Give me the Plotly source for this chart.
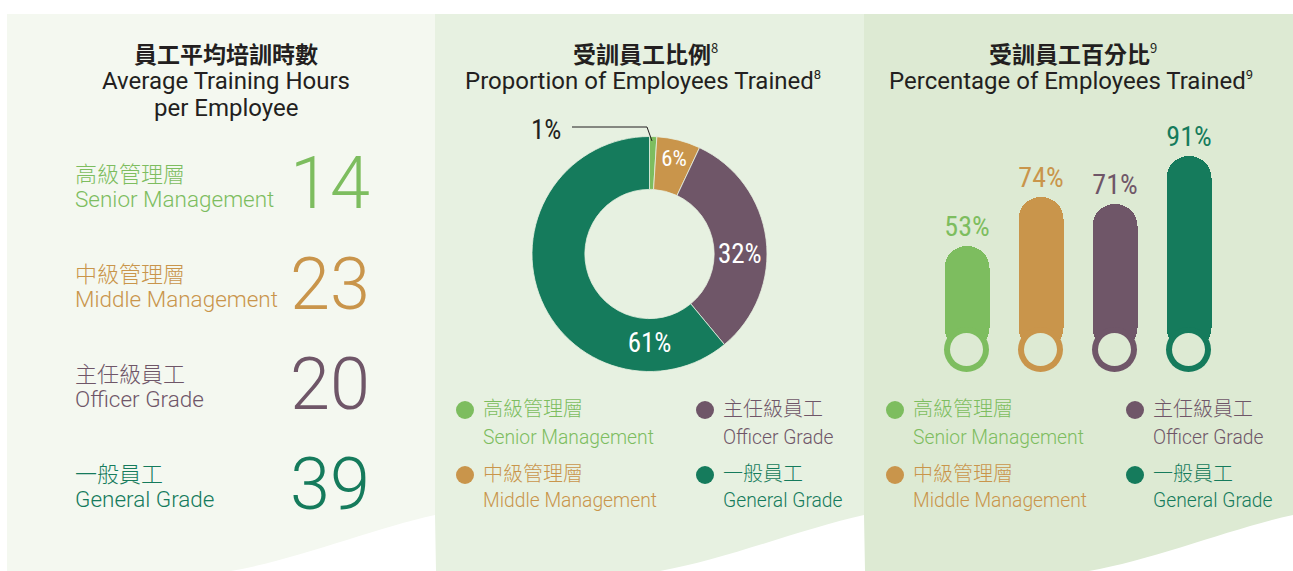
import plotly.graph_objects as go

# canvas size in px, margins are zero so paper coords map straight to pixels
W, H = 1293, 571


def px(x):
    return x / W


def py(y):
    return 1 - y / H


# ---- data ----
grades_zh = ["高級管理層", "中級管理層", "主任級員工", "一般員工"]
grades_en = ["Senior Management", "Middle Management", "Officer Grade", "General Grade"]
avg_hours = [14, 23, 20, 39]            # average training hours per employee
share_trained = [1, 6, 32, 61]          # proportion of employees trained (%)
pct_trained = [53, 74, 71, 91]          # percentage of employees trained (%)

colors = ["#7DBD5F", "#C9954B", "#6F5668", "#157B5C"]
ink = "#231F20"
panel_bg = ["#F4F8F0", "#E7F1E1", "#DDEAD3"]

LAT = "Roboto, 'Noto Sans CJK TC', sans-serif"
CJK = "'Noto Sans CJK TC', 'Noto Sans CJK SC', sans-serif"
COND = "'Roboto Condensed', 'Liberation Sans Narrow', Roboto, sans-serif"

fig = go.Figure()

# ---- donut: proportion of employees trained ----
fig.add_trace(
    go.Pie(
        values = share_trained,
        labels = grades_en,
        hole = 0.55,
        sort = False,
        direction = "clockwise",
        rotation = 0,
        marker = {"colors": colors, "line": {"color": panel_bg[1], "width": 0.8}},
        texttemplate = "%{value}%",
        textposition = ["none", "inside", "inside", "inside"],
        insidetextorientation = "horizontal",
        textfont = {"color": "white", "size": 27, "family": COND},
        domain = {"x": [px(532), px(767)], "y": [py(371.5), py(136.5)]},
        showlegend = False,
        hoverinfo = "label+percent",
    )
)

# ---- capsule bars: percentage of employees trained ----
bar_w_px = 45
y_bottom_px, y_top_px = 372, 135          # 0% .. 100%
unit_px = (y_bottom_px - y_top_px) / 100
r = (bar_w_px / 2) / unit_px              # cap radius in data units
xs = list(range(len(pct_trained)))

fig.add_trace(
    go.Bar(
        x = xs,
        y = [v - r for v in pct_trained],
        base = [r] * len(pct_trained),
        width = bar_w_px / 74,
        marker = {"color": colors, "cornerradius": "50%", "line": {"width": 0}},
        text = [f"{v}%" for v in pct_trained],
        textposition = "outside",
        textfont = {"color": colors, "size": 28, "family": COND},
        constraintext = "none",
        cliponaxis = False,
        showlegend = False,
        hovertemplate = "%{text}<extra></extra>",
    )
)
fig.add_trace(
    go.Scatter(
        x = xs,
        y = [r] * len(xs),
        mode = "markers",
        marker = {"size": bar_w_px, "color": colors, "line": {"width": 0}},
        showlegend = False,
        hoverinfo = "skip",
        cliponaxis = False,
    )
)
fig.add_trace(
    go.Scatter(
        x = xs,
        y = [r] * len(xs),
        mode = "markers",
        marker = {"size": 33, "color": panel_bg[2], "line": {"width": 0}},
        showlegend = False,
        hoverinfo = "skip",
        cliponaxis = False,
    )
)

# ---- panels (background decoration) ----
shapes = []
panel_x = [(7, 435), (435, 864), (864, 1293)]
for (x0, x1), bg in zip(panel_x, panel_bg):
    shapes.append({
        "type": "rect", "xref": "paper", "yref": "paper", "layer": "below",
        "x0": px(x0), "x1": px(x1), "y0": py(571), "y1": py(14),
        "fillcolor": bg, "line": {"width": 0},
    })
for x0, x1 in panel_x:
    shapes.append({
        "type": "path", "xref": "paper", "yref": "paper", "layer": "below",
        "path": f"M {px(x1)},{py(515)} C {px(x1 - 60)},{py(528)} {px(x1 - 140)},{py(560)} {px(x1 - 204)},{py(571)} L {px(x1 + 1)},{py(571)} Z",
        "fillcolor": "white", "line": {"width": 0},
    })

# leader line for the tiny 1% slice
shapes.append({
    "type": "path", "xref": "paper", "yref": "paper",
    "path": f"M {px(572)},{py(127)} L {px(647)},{py(127)} L {px(652)},{py(141)}",
    "line": {"color": ink, "width": 1},
})

annotations = []


def note(text, x, y, size, color, family=LAT, xanchor="center", weight=None):
    font = {"size": size, "color": color, "family": family}
    if weight:
        font["weight"] = weight
    annotations.append({
        "text": text, "x": px(x), "y": py(y), "xref": "paper", "yref": "paper",
        "xanchor": xanchor, "yanchor": "middle", "showarrow": False, "font": font,
    })


def sup(n):
    return f"<sup><span style='font-size:13px'>{n}</span></sup>"


# titles
note("<b>員工平均培訓時數</b>", 226, 53, 23, ink, CJK)
note("Average Training Hours", 226, 81, 24, ink)
note("per Employee", 226, 108, 24, ink)
note("<b>受訓員工比例</b>" + sup(8), 645, 53, 23, ink, CJK)
note("Proportion of Employees Trained" + sup(8), 643, 81, 24, ink)
note("<b>受訓員工百分比</b>" + sup(9), 1073, 53, 23, ink, CJK)
note("Percentage of Employees Trained" + sup(9), 1071, 81, 24, ink)

# left panel: average training hours
for i, (zh, en, v, c) in enumerate(zip(grades_zh, grades_en, avg_hours, colors)):
    row = 184 + 100 * i
    note(zh, 73, row - 12, 22, c, CJK, "left", 300)
    note(en, 73, row + 15, 22.5, c, LAT, "left", 300)
    note(str(v), 372, row, 72, c, LAT, "right", 300)

# 1% label for donut
note(f"{share_trained[0]}%", 546, 130, 27, ink, COND)

# legends for panel 2 and panel 3
for dx in (0, 430):
    for i, (zh, en, c) in enumerate(zip(grades_zh, grades_en, colors)):
        col, rown = i // 2, i % 2
        cx = 465 + dx + 240 * col
        cy = 410 + 65 * rown
        shapes.append({
            "type": "circle", "xref": "paper", "yref": "paper",
            "x0": px(cx - 9), "x1": px(cx + 9), "y0": py(cy + 9), "y1": py(cy - 9),
            "fillcolor": c, "line": {"width": 0},
        })
        note(zh, cx + 16, 408 + 64 * rown, 20, c, CJK, "left", 300)
        note(en, cx + 16, 437 + 63 * rown, 19.3, c, LAT, "left", 300)

fig.update_layout(
    width = W,
    height = H,
    margin = {"l": 0, "r": 0, "t": 0, "b": 0, "pad": 0},
    paper_bgcolor = "white",
    plot_bgcolor = "rgba(0,0,0,0)",
    showlegend = False,
    bargap = 0,
    xaxis = {
        "domain": [px(929.5), px(1225.5)],
        "range": [-0.5, 3.5],
        "visible": False,
        "fixedrange": True,
    },
    yaxis = {
        "domain": [py(y_bottom_px), py(y_top_px)],
        "range": [0, 100],
        "visible": False,
        "fixedrange": True,
    },
    shapes = shapes,
    annotations = annotations,
)

# drop the default page margin so the figure sits at the window's top-left corner
fig.write_html(
    "out.html",
    config = {"displayModeBar": False},
    post_script = "document.body.style.margin='0';document.body.style.overflow='hidden';",
)
